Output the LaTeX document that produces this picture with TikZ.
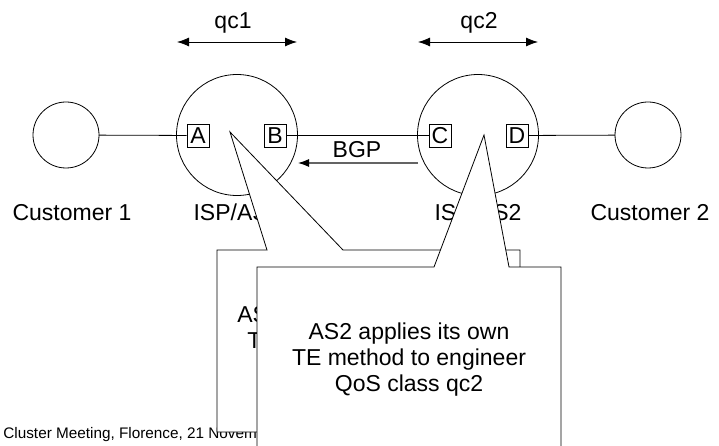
\documentclass[tikz,border=0pt]{standalone}
\usepackage{fontspec}
\setmainfont{Liberation Sans}
\usetikzlibrary{arrows.meta}
\begin{document}
\begin{tikzpicture}[x=1pt,y=-1pt,line width=0.8pt,
  lbl/.style={font=\fontsize{23}{26}\selectfont,inner sep=0pt},
  port/.style={draw,fill=white,inner sep=0pt,minimum width=22pt,minimum height=23pt,font=\fontsize{23}{24}\selectfont},
  cust/.style={circle,draw,inner sep=0pt,outer sep=0pt,minimum size=66pt},
  isp/.style={circle,draw,inner sep=0pt,minimum size=121pt},
  span/.style={{Latex[length=12pt,width=9pt]}-{Latex[length=12pt,width=9pt]}},
  callout/.style={draw,fill=white,line join=miter}]
\clip (0,0) rectangle (719,446);
% routers and customers
\node[cust] (c1) at (66,135) {};
\node[isp] (as1) at (237,135) {};
\node[isp] (as2) at (478,135) {};
\node[cust] (c2) at (648,135) {};
\node[port] (A) at (198,135.5) {A};
\node[port] (B) at (275,135.5) {B};
\node[port] (C) at (440,135.5) {C};
\node[port] (D) at (517,135.5) {D};
\draw (c1) -- (A);
\draw (B) -- (C);
\draw (D) -- (c2);
% qc spans
\coordinate (q1l) at (177,42); \coordinate (q1r) at (297,42);
\coordinate (q2l) at (418,42); \coordinate (q2r) at (538,42);
\draw[span] (q1l) -- (q1r);
\draw[span] (q2l) -- (q2r);
\node[lbl,anchor=base] (qc1) at (233,29) {qc1};
\node[lbl,anchor=base] (qc2) at (479,29) {qc2};
% BGP
\coordinate (bgps) at (418,163); \coordinate (bgpe) at (298,163);
\draw[draw={rgb,255:red,100;green,100;blue,100},line width=1.2pt,-{Latex[length=11pt,width=8pt,color=black]}] (bgps) -- (bgpe);
\node[lbl,anchor=base] (bgp) at (357,158) {BGP};
% labels
\node[lbl,anchor=base] (l1) at (72,221) {Customer 1};
\node[lbl,anchor=base] (l2) at (237,221) {ISP/AS1};
\node[lbl,anchor=base] (l3) at (478,221) {ISP/AS2};
\node[lbl,anchor=base] (l4) at (650,221) {Customer 2};
% footer
\node[font=\fontsize{15.3}{17}\selectfont,inner sep=0pt,anchor=base west] (foot) at (3,438) {Cluster Meeting, Florence, 21 November};
% callout 1
\draw[callout] (217,250) -- (267,250) -- (230,132) -- (343,250) -- (520,250) -- (520,432) -- (217,432) -- cycle;
\node[lbl,anchor=base west] (t1a) at (237,322) {AS1};
\node[lbl,anchor=base west] (t1b) at (247,348) {TE};
% callout 2
\draw[callout] (257,267) -- (434,267) -- (484,135) -- (509,267) -- (561,267) -- (561,470) -- (257,470) -- cycle;
\node[lbl,align=center] (t2) at (409,360) {AS2 applies its own\\TE method to engineer\\QoS class qc2};
\end{tikzpicture}
\end{document}
